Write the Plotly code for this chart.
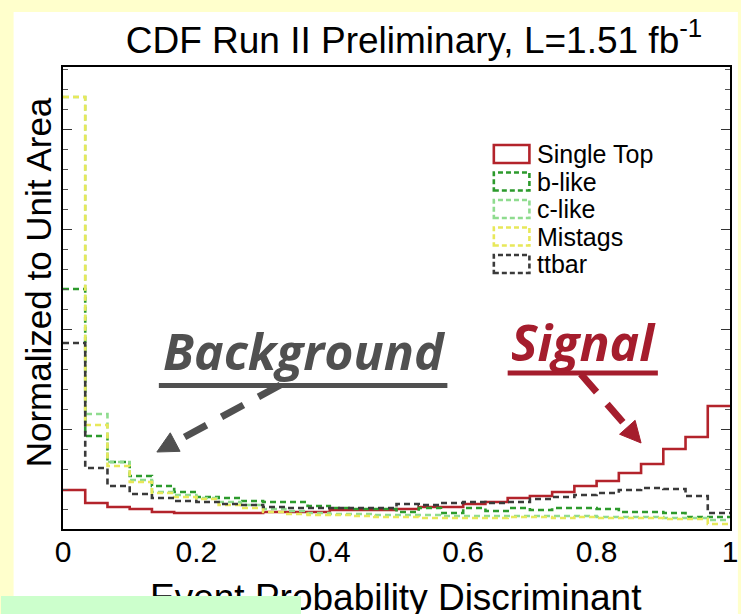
import numpy as np
import plotly.graph_objects as go

# 30 equal-width bins of the discriminant output, each template normalised to unit area
bin_edges = np.linspace(0.0, 1.0, 31)

single_top = [0.039, 0.026, 0.022, 0.020, 0.017, 0.016, 0.016, 0.016, 0.016, 0.017,
              0.017, 0.017, 0.019, 0.019, 0.019, 0.020, 0.022, 0.022, 0.025, 0.027,
              0.031, 0.033, 0.037, 0.043, 0.048, 0.056, 0.065, 0.080, 0.092, 0.123]
b_like = [0.240, 0.093, 0.067, 0.053, 0.043, 0.037, 0.032, 0.031, 0.028, 0.027,
          0.027, 0.023, 0.021, 0.020, 0.020, 0.017, 0.021, 0.016, 0.021, 0.018,
          0.021, 0.019, 0.021, 0.021, 0.020, 0.017, 0.017, 0.016, 0.012, 0.012]
c_like = [0.432, 0.115, 0.067, 0.049, 0.037, 0.034, 0.031, 0.027, 0.024, 0.020,
          0.018, 0.016, 0.015, 0.015, 0.014, 0.014, 0.014, 0.013, 0.013, 0.013,
          0.013, 0.013, 0.013, 0.013, 0.012, 0.012, 0.012, 0.011, 0.011, 0.009]
mistags = [0.432, 0.104, 0.063, 0.047, 0.036, 0.032, 0.030, 0.024, 0.021, 0.017,
           0.015, 0.014, 0.014, 0.013, 0.012, 0.012, 0.011, 0.011, 0.011, 0.011,
           0.012, 0.012, 0.011, 0.012, 0.011, 0.011, 0.011, 0.010, 0.010, 0.005]
ttbar = [0.186, 0.061, 0.043, 0.035, 0.031, 0.028, 0.027, 0.025, 0.024, 0.022,
         0.021, 0.021, 0.021, 0.021, 0.021, 0.025, 0.024, 0.026, 0.027, 0.026,
         0.027, 0.030, 0.032, 0.034, 0.036, 0.039, 0.041, 0.040, 0.033, 0.016]

series_names = ["Single Top", "b-like", "c-like", "Mistags", "ttbar"]
x_tick_vals = [0, 0.2, 0.4, 0.6, 0.8, 1.0]
x_tick_text = ["0", "0.2", "0.4", "0.6", "0.8", "1"]

# --- page geometry -------------------------------------------------------
W, H = 741, 614
ML, MR, MT, MB = 63, 3, 67, 85
PW = W - ML - MR
PH = H - MT - MB


def px(xp):
    """pixel column -> paper x"""
    return (xp - ML) / PW


def py(yp):
    """pixel row -> paper y"""
    return (H - MB - yp) / PH


styles = [
    dict(color="#b3232b", dash="solid", width=2.6),
    dict(color="#2c9a2c", dash="6px,4px", width=2.6),
    dict(color="#8fdc8f", dash="6px,4px", width=2.6),
    dict(color="#e8e85a", dash="6px,4px", width=2.6),
    dict(color="#3a3a3a", dash="6px,4px", width=2.6),
]
all_values = [single_top, b_like, c_like, mistags, ttbar]

fig = go.Figure()
for name, vals, st in zip(series_names, all_values, styles):
    fig.add_trace(go.Scatter(
        x=bin_edges, y=list(vals) + [vals[-1]], name=name, mode="lines",
        line=dict(shape="hv", color=st["color"], dash=st["dash"], width=st["width"]),
        showlegend=False, hoverinfo="skip",
    ))

shapes = []
annotations = []

# white page area over the pale-yellow border
shapes.append(dict(type="rect", xref="paper", yref="paper", layer="below",
                   x0=px(13), x1=px(W + 5), y0=py(12), y1=py(H + 5),
                   fillcolor="white", line=dict(width=0)))

# hand-built legend with box icons
leg_rows = [154, 181.5, 209, 236.5, 264]
for name, st, cy in zip(series_names, styles, leg_rows):
    shapes.append(dict(type="rect", xref="paper", yref="paper",
                       x0=px(499), x1=px(535), y0=py(cy + 9), y1=py(cy - 9),
                       line=dict(color=st["color"], width=2.6,
                                 dash="solid" if st["dash"] == "solid" else "5px,3px"),
                       fillcolor="rgba(0,0,0,0)"))
    annotations.append(dict(xref="paper", yref="paper", x=px(541), y=py(cy),
                            xanchor="left", yanchor="middle", showarrow=False,
                            text=name, font=dict(family="Liberation Sans", size=25, color="black")))


def arrow(x0, y0, x1, y1, color, head=21, half=10.5, dash="25px,17px"):
    ux, uy = x1 - x0, y1 - y0
    n = (ux ** 2 + uy ** 2) ** 0.5
    ux, uy = ux / n, uy / n
    bx, by = x1 - head * ux, y1 - head * uy
    nx, ny = -uy, ux
    shapes.append(dict(type="line", xref="paper", yref="paper", layer="above",
                       x0=px(x0), y0=py(y0), x1=px(bx), y1=py(by),
                       line=dict(color=color, width=7, dash=dash)))
    p = [(x1, y1), (bx + half * nx, by + half * ny), (bx - half * nx, by - half * ny)]
    path = "M {} {} L {} {} L {} {} Z".format(*[v for pt in p for v in (px(pt[0]), py(pt[1]))])
    shapes.append(dict(type="path", xref="paper", yref="paper", layer="above", path=path,
                       fillcolor=color, line=dict(color=color, width=1)))


bg_col = "#505050"
sig_col = "#a51d2d"

# "Background" label, underline and arrow
annotations.append(dict(xref="paper", yref="paper", x=px(307), y=py(351),
                        xanchor="center", yanchor="middle", showarrow=False,
                        text="<b><i>Background</i></b>",
                        font=dict(family="Open Sans", size=50, color=bg_col)))
shapes.append(dict(type="line", xref="paper", yref="paper", layer="above",
                   x0=px(160), x1=px(452), y0=py(385.5), y1=py(385.5),
                   line=dict(color=bg_col, width=5)))
arrow(283, 385, 158, 452, bg_col)

# "Signal" label, underline and arrow
annotations.append(dict(xref="paper", yref="paper", x=px(590), y=py(342),
                        xanchor="center", yanchor="middle", showarrow=False,
                        text="<b><i>Signal</i></b>",
                        font=dict(family="Open Sans", size=50, color=sig_col)))
shapes.append(dict(type="line", xref="paper", yref="paper", layer="above",
                   x0=px(513), x1=px(665), y0=py(373), y1=py(373),
                   line=dict(color=sig_col, width=5)))
arrow(587, 374, 648, 443, sig_col, dash="24px,16px")

# axis titles
annotations.append(dict(xref="paper", yref="paper", x=px(38), y=py(282),
                        xanchor="center", yanchor="middle", showarrow=False, textangle=-90,
                        text="Normalized to Unit Area",
                        font=dict(family="Liberation Sans", size=35, color="black")))
annotations.append(dict(xref="paper", yref="paper", x=px(400), y=py(597),
                        xanchor="center", yanchor="middle", showarrow=False,
                        text="Event Probability Discriminant",
                        font=dict(family="Liberation Sans", size=37, color="black")))

# pale green tab in the lower-left corner
annotations.append(dict(xref="paper", yref="paper", x=px(0), y=py(614),
                        xanchor="left", yanchor="bottom", showarrow=False,
                        text=" ", width=300, height=18, bgcolor="#ccffcc",
                        borderpad=0, borderwidth=0))

fig.update_layout(
    width=W, height=H,
    margin=dict(l=ML, r=MR, t=MT, b=MB, pad=0),
    paper_bgcolor="#ffffcc",
    plot_bgcolor="white",
    title=dict(text="CDF Run II Preliminary, L=1.51 fb<sup>-1</sup>",
               x=414 / W, xanchor="center", y=1 - 40 / H, yanchor="middle",
               font=dict(family="Liberation Sans", size=37, color="black")),
    xaxis=dict(range=[0, 1], showgrid=False, zeroline=False,
               showline=True, linecolor="black", linewidth=2, mirror=True,
               ticks="", ticklen=0, tickvals=x_tick_vals, ticktext=x_tick_text,
               ticklabeloverflow="allow", ticklabelstandoff=-5,
               tickfont=dict(family="Liberation Sans", size=30, color="black")),
    yaxis=dict(range=[0, PH / 1000.0], showgrid=False, zeroline=False,
               showline=True, linecolor="black", linewidth=2, mirror="ticks",
               ticks="inside", dtick=0.1, tick0=0, ticklen=9, tickwidth=1, tickcolor="#333",
               showticklabels=False,
               minor=dict(dtick=0.02, ticks="inside", ticklen=5, tickwidth=1, tickcolor="#555")),
    shapes=shapes,
    annotations=annotations,
)

fig.write_html("out.html")
